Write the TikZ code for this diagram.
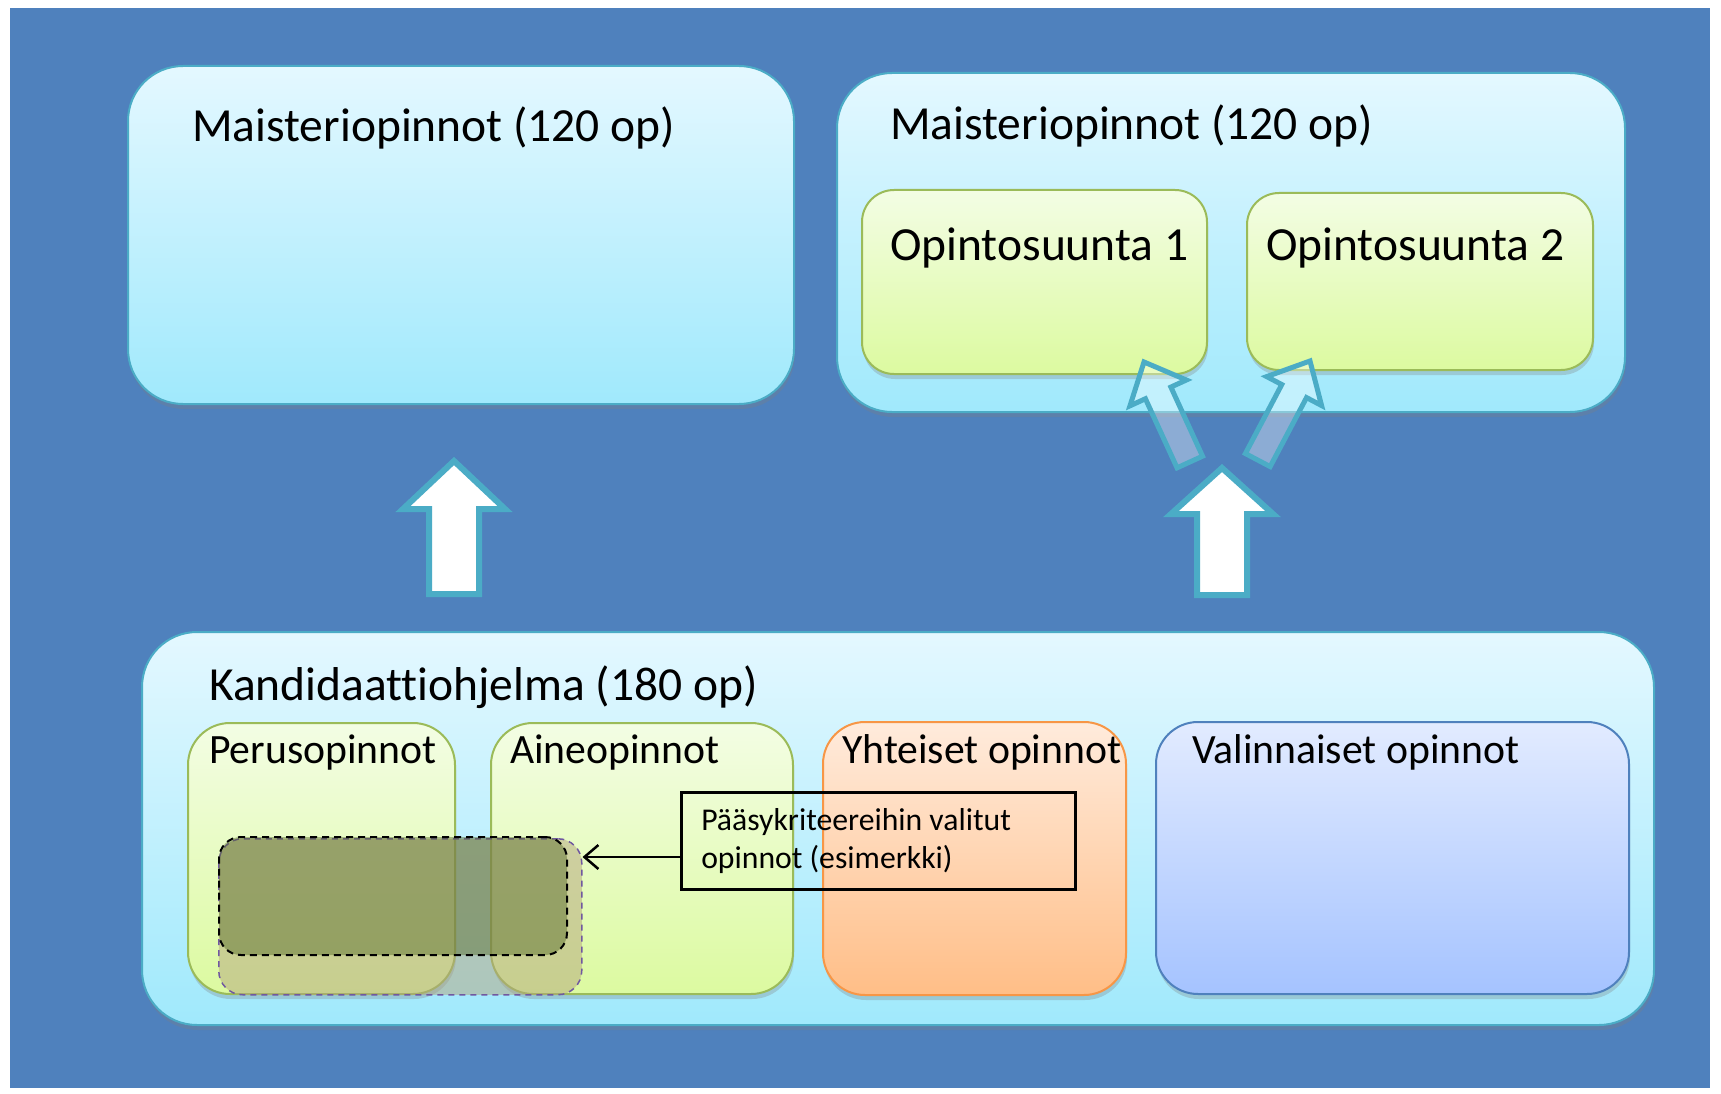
\documentclass[tikz,border=0pt]{standalone}
\usepackage{fontspec}
\setmainfont{Carlito}[Ligatures=NoCommon]
\usetikzlibrary{positioning, shadows, arrows.meta}

\definecolor{slideblue}{HTML}{4F81BD}
\definecolor{aqualine}{HTML}{4BACC6}
\definecolor{aquatop}{RGB}{228,248,255}
\definecolor{aquabot}{RGB}{160,233,252}
\definecolor{greenline}{HTML}{9BBB59}
\definecolor{greentop}{RGB}{243,253,228}
\definecolor{greenbot}{RGB}{220,250,160}
\definecolor{orangeline}{HTML}{F79646}
\definecolor{orangetop}{RGB}{255,235,220}
\definecolor{orangebot}{RGB}{255,190,135}
\definecolor{lavtop}{RGB}{226,235,255}
\definecolor{lavbot}{RGB}{165,195,255}
\definecolor{tanfill}{RGB}{180,165,125}
\definecolor{olivefill}{RGB}{85,105,40}
\definecolor{dashpurple}{RGB}{112,88,160}

\tikzset{
	boxshadow/.style={drop shadow={shadow xshift=1pt, shadow yshift=-5pt, opacity=0.3}},
	panel/.style={rectangle, draw=aqualine, line width=2pt, top color=aquatop, bottom color=aquabot,
		rounded corners=55pt, anchor=north west, inner sep=0pt, boxshadow},
	greenbox/.style={rectangle, draw=greenline, line width=2pt, top color=greentop, bottom color=greenbot,
		rounded corners=#1, anchor=north west, inner sep=0pt, boxshadow},
	orangebox/.style={rectangle, draw=orangeline, line width=2pt, top color=orangetop, bottom color=orangebot,
		rounded corners=42pt, anchor=north west, inner sep=0pt, boxshadow},
	bluebox/.style={rectangle, draw=slideblue, line width=2pt, top color=lavtop, bottom color=lavbot,
		rounded corners=42pt, anchor=north west, inner sep=0pt, boxshadow},
	heading/.style={font=\fontsize{47.5pt}{57pt}\selectfont, inner sep=0pt, anchor=base west},
	subheading/.style={font=\fontsize{41.7pt}{50pt}\selectfont, inner sep=0pt, anchor=base west},
	fatarrow/.style={draw=aqualine, line width=6pt, fill=white},
	thinarrow/.style={draw=aqualine, line width=5pt, fill=white, fill opacity=0.35},
}

\begin{document}
\begin{tikzpicture}[x=1pt, y=-1pt]
	\useasboundingbox (0,0) rectangle (1721,1094);
	\fill[white] (0,0) rectangle (1721,1094);
	\fill[slideblue] (10,8) rectangle (1710,1088);

	% maisteri, left
	\node[panel, minimum width=666pt, minimum height=338pt] (mastA) at (127,65) {};
	\node[heading] (mastAtext) at (192,142) {Maisteriopinnot (120 op)};

	% maisteri, right with two tracks
	\node[panel, minimum width=788pt, minimum height=339pt] (mastB) at (836,72) {};
	\node[heading] (mastBtext) at (890,140) {Maisteriopinnot (120 op)};
	\node[greenbox=32pt, minimum width=345pt, minimum height=184pt] (track1) at (861,189) {};
	\node[heading] (track1text) at (890,260) {Opintosuunta 1};
	\node[greenbox=32pt, minimum width=346pt, minimum height=177pt] (track2) at (1246,192) {};
	\node[heading] (track2text) at (1266,260) {Opintosuunta 2};

	% kandidaatti
	\node[panel, minimum width=1512pt, minimum height=393pt] (kand) at (141,631) {};
	\node[heading] (kandtext) at (209,700) {Kandidaattiohjelma (180 op)};
	\node[greenbox=42pt, minimum width=267pt, minimum height=271pt] (perus) at (187,722) {};
	\node[greenbox=42pt, minimum width=302pt, minimum height=271pt] (aine) at (490,722) {};
	\node[orangebox, minimum width=303pt, minimum height=273pt] (yht) at (822,721) {};
	\node[bluebox, minimum width=473pt, minimum height=272pt] (valin) at (1155,721) {};
	\node[subheading] (perustext) at (209,763) {Perusopinnot};
	\node[subheading] (ainetext) at (510,763) {Aineopinnot};
	\node[subheading] (yhttext) at (842,763) {Yhteiset opinnot};
	\node[subheading] (valintext) at (1192,763) {Valinnaiset opinnot};

	% valitut opinnot
	\node[rectangle, rounded corners=24pt, anchor=north west, minimum width=363pt, minimum height=156pt,
		fill=tanfill, fill opacity=0.5, draw=dashpurple, line width=1.5pt, dash pattern=on 6pt off 5pt] (sel2) at (218,838) {};
	\node[rectangle, rounded corners=22pt, anchor=north west, minimum width=348pt, minimum height=118pt,
		fill=olivefill, fill opacity=0.45, draw=black, line width=2pt, dash pattern=on 7pt off 5pt] (sel1) at (218,836) {};

	\node[draw, line width=2.5pt, anchor=north west, minimum width=394pt, minimum height=97pt,
		inner xsep=20pt, inner ysep=0pt, text width=354pt, align=flush left,
		font=\fontsize{31.7pt}{38pt}\selectfont] (callout) at (680,791)
		{Pääsykriteereihin valitut\\opinnot (esimerkki)};
	\coordinate (pointer) at (sel2.east |- 0,857);
	\draw[line width=2.5pt, -{Straight Barb[length=14pt, width=24pt, line width=2.5pt]}] (pointer -| callout.west) -- (pointer);

	% big arrows
	\begin{scope}[shift={(454,461)}]
		\draw[fatarrow] (0,0) -- (51,48) -- (25,48) -- (25,133) -- (-25,133) -- (-25,48) -- (-51,48) -- cycle;
	\end{scope}
	\begin{scope}[shift={(1222,468)}]
		\draw[fatarrow] (0,0) -- (51,46) -- (25,46) -- (25,127) -- (-25,127) -- (-25,46) -- (-51,46) -- cycle;
	\end{scope}

	% small arrows to the tracks
	\begin{scope}[shift={(1144,362)}, rotate=24.6]
		\draw[thinarrow] (0,0) -- (31,34) -- (14,34) -- (14,110) -- (-14,110) -- (-14,34) -- (-31,34) -- cycle;
	\end{scope}
	\begin{scope}[shift={(1310,361)}, rotate=-27.8]
		\draw[thinarrow] (0,0) -- (31,34) -- (14,34) -- (14,112) -- (-14,112) -- (-14,34) -- (-31,34) -- cycle;
	\end{scope}
\end{tikzpicture}
\end{document}
